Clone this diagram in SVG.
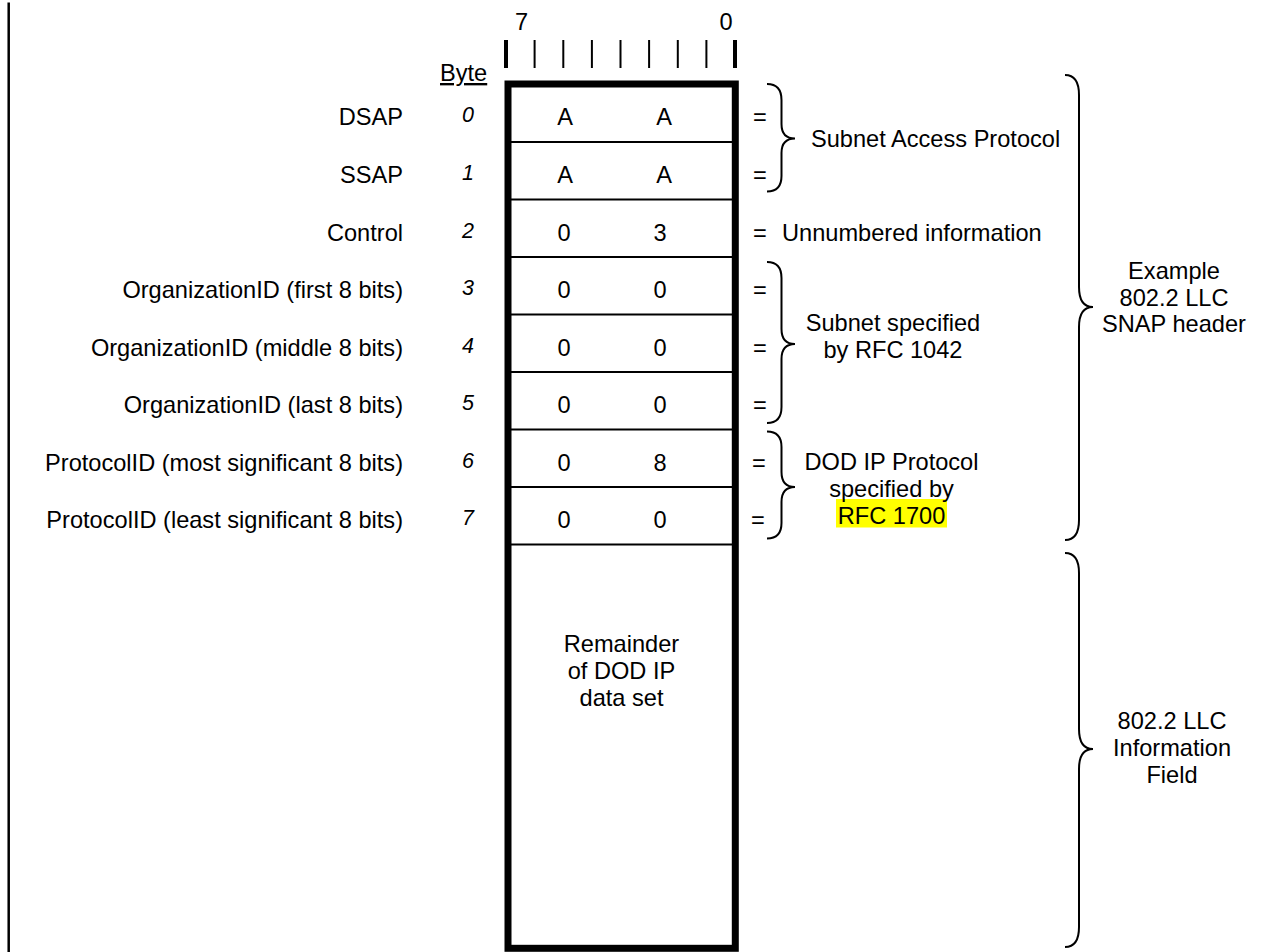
<svg xmlns="http://www.w3.org/2000/svg" width="1261" height="952" viewBox="0 0 1261 952">
<style>
text{font-family:"Liberation Sans",Arial,sans-serif;font-size:23.6px;fill:#000}
.e{text-anchor:end}
.m{text-anchor:middle}
.n{font-size:21.5px;font-style:italic;text-anchor:middle}
.br{fill:none;stroke:#000;stroke-width:2}
.row{stroke:#000;stroke-width:2}
.tk{stroke:#000;stroke-width:2}
.tkb{stroke:#000;stroke-width:4}
</style>
<rect width="1261" height="952" fill="#fff"/>
<line x1="8.7" y1="2.5" x2="8.7" y2="952" stroke="#000" stroke-width="2.5"/>
<g id="scale">
<text x="521.5" y="30" class="m">7</text>
<text x="726" y="30" class="m">0</text>
<line class="tkb" x1="506" y1="40" x2="506" y2="68"/>
<line class="tk" x1="534.6" y1="40" x2="534.6" y2="68"/>
<line class="tk" x1="563.3" y1="40" x2="563.3" y2="68"/>
<line class="tk" x1="591.9" y1="40" x2="591.9" y2="68"/>
<line class="tk" x1="620.5" y1="40" x2="620.5" y2="68"/>
<line class="tk" x1="649.1" y1="40" x2="649.1" y2="68"/>
<line class="tk" x1="677.8" y1="40" x2="677.8" y2="68"/>
<line class="tk" x1="706.4" y1="40" x2="706.4" y2="68"/>
<line class="tkb" x1="735" y1="40" x2="735" y2="68"/>
<text x="440" y="81" text-decoration="underline">Byte</text>
</g>
<g id="frame">
<rect x="508" y="84" width="227.3" height="864.3" fill="none" stroke="#000" stroke-width="7"/>
<line class="row" x1="511" y1="142" x2="732" y2="142"/>
<line class="row" x1="511" y1="199.5" x2="732" y2="199.5"/>
<line class="row" x1="511" y1="257" x2="732" y2="257"/>
<line class="row" x1="511" y1="314.5" x2="732" y2="314.5"/>
<line class="row" x1="511" y1="372" x2="732" y2="372"/>
<line class="row" x1="511" y1="429.5" x2="732" y2="429.5"/>
<line class="row" x1="511" y1="487" x2="732" y2="487"/>
<line class="row" x1="511" y1="544.5" x2="732" y2="544.5"/>
</g>
<g id="byte0">
<text x="403" y="125" class="e">DSAP</text>
<text x="468" y="122" class="n">0</text>
<text x="565" y="125" class="m">A</text>
<text x="664" y="125" class="m">A</text>
<text x="753" y="125">=</text>
</g>
<g id="byte1">
<text x="403" y="182.5" class="e">SSAP</text>
<text x="468" y="179.5" class="n">1</text>
<text x="565" y="182.5" class="m">A</text>
<text x="664" y="182.5" class="m">A</text>
<text x="753" y="182.5">=</text>
</g>
<g id="byte2">
<text x="403" y="240.5" class="e">Control</text>
<text x="468" y="237.5" class="n">2</text>
<text x="564" y="240.5" class="m">0</text>
<text x="660" y="240.5" class="m">3</text>
<text x="753" y="240.5">=</text>
<text x="782" y="240.5">Unnumbered information</text>
</g>
<g id="byte3">
<text x="403" y="298" class="e">OrganizationID (first 8 bits)</text>
<text x="468" y="295" class="n">3</text>
<text x="564" y="298" class="m">0</text>
<text x="660" y="298" class="m">0</text>
<text x="753" y="298">=</text>
</g>
<g id="byte4">
<text x="403" y="355.5" class="e">OrganizationID (middle 8 bits)</text>
<text x="468" y="352.5" class="n">4</text>
<text x="564" y="355.5" class="m">0</text>
<text x="660" y="355.5" class="m">0</text>
<text x="753" y="355.5">=</text>
</g>
<g id="byte5">
<text x="403" y="413" class="e">OrganizationID (last 8 bits)</text>
<text x="468" y="410" class="n">5</text>
<text x="564" y="413" class="m">0</text>
<text x="660" y="413" class="m">0</text>
<text x="753" y="413">=</text>
</g>
<g id="byte6">
<text x="403" y="470.5" class="e">ProtocolID (most significant 8 bits)</text>
<text x="468" y="467.5" class="n">6</text>
<text x="564" y="470.5" class="m">0</text>
<text x="660" y="470.5" class="m">8</text>
<text x="752" y="470.5">=</text>
</g>
<g id="byte7">
<text x="403" y="528" class="e">ProtocolID (least significant 8 bits)</text>
<text x="468" y="525" class="n">7</text>
<text x="564" y="528" class="m">0</text>
<text x="660" y="528" class="m">0</text>
<text x="751" y="528">=</text>
</g>
<g id="remainder">
<text x="621.5" y="652" class="m">Remainder</text>
<text x="621.5" y="679" class="m">of DOD IP</text>
<text x="621.5" y="706" class="m">data set</text>
</g>
<g id="connectors">
<path class="br" d="M767 84 Q781.5 84 781.5 100 L781.5 124 Q781.5 138.5 795 138.5 Q781.5 138.5 781.5 153 L781.5 176 Q781.5 191.5 767 191.5"/>
<path class="br" d="M767 262 Q781.5 262 781.5 278 L781.5 329 Q781.5 344 795 344 Q781.5 344 781.5 359 L781.5 407 Q781.5 423 767 423"/>
<path class="br" d="M767 431.5 Q781.5 431.5 781.5 447 L781.5 472 Q781.5 487 795 487 Q781.5 487 781.5 502 L781.5 523 Q781.5 538.5 767 538.5"/>
<path class="br" d="M1065 75 Q1079 75 1079 95 L1079 287 Q1079 307 1093 307 Q1079 307 1079 327 L1079 520 Q1079 540 1065 540"/>
<path class="br" d="M1065 553 Q1079 553 1079 573 L1079 729 Q1079 749 1093 749 Q1079 749 1079 769 L1079 927 Q1079 947 1065 947"/>
</g>
<g id="label-snap-access">
<text x="811" y="147">Subnet Access Protocol</text>
</g>
<g id="label-rfc1042">
<text x="893" y="331" class="m">Subnet specified</text>
<text x="893" y="358" class="m">by RFC 1042</text>
</g>
<g id="label-dodip">
<rect x="836" y="499" width="111" height="28.5" fill="#ffff00"/>
<text x="891.5" y="470" class="m">DOD IP Protocol</text>
<text x="891.5" y="497" class="m">specified by</text>
<text x="891.5" y="524" class="m">RFC 1700</text>
</g>
<g id="label-snap-header">
<text x="1174" y="279" class="m">Example</text>
<text x="1174" y="305.5" class="m">802.2 LLC</text>
<text x="1174" y="332" class="m">SNAP header</text>
</g>
<g id="label-info-field">
<text x="1172" y="728.5" class="m">802.2 LLC</text>
<text x="1172" y="755.5" class="m">Information</text>
<text x="1172" y="782.5" class="m">Field</text>
</g>
</svg>
